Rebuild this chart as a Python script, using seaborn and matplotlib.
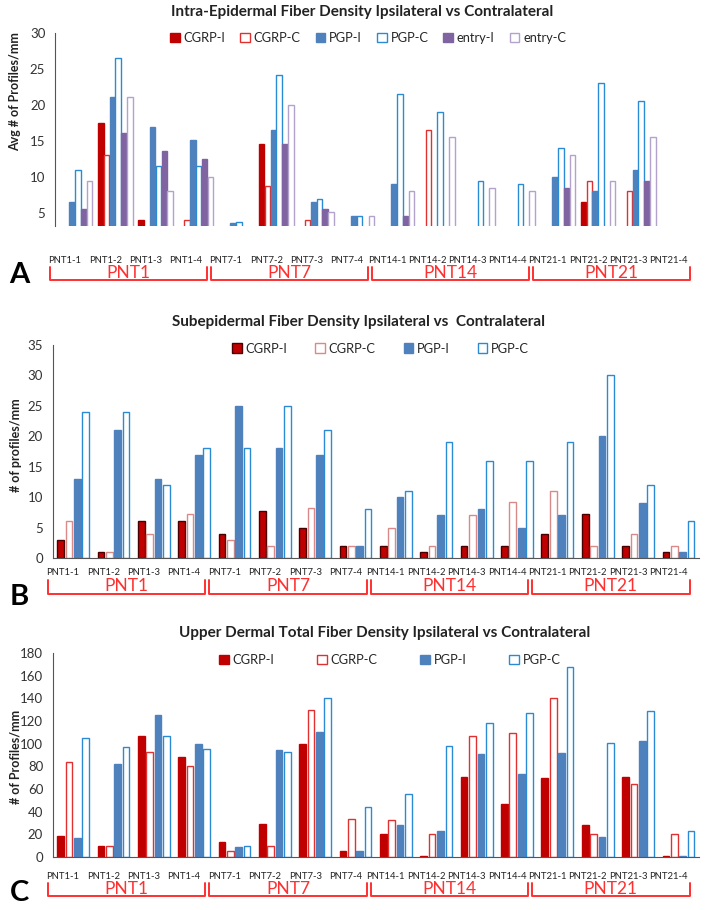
import numpy as np
import pandas as pd
import matplotlib
matplotlib.use("Agg")
import matplotlib.pyplot as plt
import matplotlib.transforms as mtransforms
from matplotlib.patches import Patch
import seaborn as sns

# ---------------------------------------------------------------------------
# Data
# ---------------------------------------------------------------------------
categories = ["PNT1-1", "PNT1-2", "PNT1-3", "PNT1-4",
              "PNT7-1", "PNT7-2", "PNT7-3", "PNT7-4",
              "PNT14-1", "PNT14-2", "PNT14-3", "PNT14-4",
              "PNT21-1", "PNT21-2", "PNT21-3", "PNT21-4"]
groups = ["PNT1", "PNT7", "PNT14", "PNT21"]

# Panel A: intra-epidermal
series_a = ["CGRP-I", "CGRP-C", "PGP-I", "PGP-C", "entry-I", "entry-C"]
cgrp_i_a = [0, 17.5, 4.0, 0, 0, 14.6, 0, 0, 0, 0, 0, 0, 0, 6.5, 0, 0]
cgrp_c_a = [0, 13.1, 0, 4.0, 0, 8.7, 4.0, 0, 0, 16.6, 0, 0, 0, 9.5, 8.0, 0]
pgp_i_a = [6.5, 21.1, 17.0, 15.1, 3.6, 16.6, 6.5, 4.6, 9.1, 0, 0, 0, 10.0, 8.0, 11.0, 0]
pgp_c_a = [11.0, 26.6, 11.5, 11.5, 3.7, 24.2, 7.0, 4.6, 21.5, 19.1, 9.5, 9.1, 14.0, 23.1, 20.6, 0]
entry_i_a = [5.5, 16.1, 13.6, 12.5, 0, 14.6, 5.5, 0, 4.6, 0, 0, 0, 8.5, 0, 9.5, 0]
entry_c_a = [9.5, 21.1, 8.0, 10.0, 0, 20.0, 5.1, 4.6, 8.0, 15.5, 8.5, 8.0, 13.1, 9.5, 15.5, 0]

# Panel B: subepidermal
series_b = ["CGRP-I", "CGRP-C", "PGP-I", "PGP-C"]
cgrp_i_b = [3, 1, 6, 6, 4, 7.7, 5, 2, 2, 1, 2, 2, 4, 7.2, 2, 1]
cgrp_c_b = [6, 1, 4, 7.2, 3, 2, 8.2, 2, 5, 2, 7, 9.2, 11, 2, 4, 2]
pgp_i_b = [13, 21, 13, 17, 25, 18, 17, 2, 10, 7, 8, 5, 7, 20, 9, 1]
pgp_c_b = [24, 24, 12, 18, 18, 25, 21, 8, 11, 19, 16, 16, 19, 30, 12, 6]

# Panel C: upper dermal total
series_c = ["CGRP-I", "CGRP-C", "PGP-I", "PGP-C"]
cgrp_i_c = [19, 10, 107, 88, 13, 29, 100, 5, 20, 1, 71, 47, 70, 28, 71, 1]
cgrp_c_c = [84, 10, 93, 80, 5, 10, 130, 34, 33, 20, 107, 109, 140, 20, 64, 20]
pgp_i_c = [17, 82, 125, 100, 9, 94, 110, 5, 28, 23, 91, 73, 92, 18, 102, 1]
pgp_c_c = [105, 97, 107, 95, 10, 93, 140, 44, 56, 98, 118, 127, 168, 101, 129, 23]

# ---------------------------------------------------------------------------
# Styles
# ---------------------------------------------------------------------------
DARK_RED = "#C00000"
RED_EDGE = "#E03030"
BLUE = "#4F81BD"
BLUE_EDGE = "#2A8BD4"
PURPLE = "#8064A2"
PURPLE_EDGE = "#B3A2CC"
BRACKET_RED = "#FF3030"

styles_a = [(DARK_RED, DARK_RED), ("white", RED_EDGE), (BLUE, BLUE),
            ("white", BLUE_EDGE), (PURPLE, PURPLE), ("white", PURPLE_EDGE)]
styles_b = [(DARK_RED, "#4A0000"), ("white", "#D98A88"), (BLUE, BLUE),
            ("white", BLUE_EDGE)]
styles_c = [(DARK_RED, DARK_RED), ("white", RED_EDGE), (BLUE, BLUE),
            ("white", BLUE_EDGE)]

sns.set_style("white")
plt.rcParams["font.family"] = ["Lato", "DejaVu Sans"]

fig = plt.figure(figsize=(7.05, 9.10), dpi=100)


def draw_panel(ax, series, values, styles, width, gap):
    df = pd.DataFrame({
        "sample": np.tile(categories, len(series)),
        "series": np.repeat(series, len(categories)),
        "value": np.concatenate([np.asarray(v, dtype=float) for v in values]),
    })
    sns.barplot(data=df, x="sample", y="value", hue="series",
                order=categories, hue_order=series,
                palette=[s[0] if s[0] != "white" else s[1] for s in styles],
                saturation=1, width=width, gap=gap, errorbar=None,
                legend=False, ax=ax)
    for cont, (face, edge) in zip(ax.containers, styles):
        for bar in cont:
            bar.set_facecolor(face)
            bar.set_edgecolor(edge)
            bar.set_linewidth(1.0)
    ax.set_xlim(-0.5, len(categories) - 0.5)
    ax.set_xlabel("")
    ax.set_ylabel("")
    ax.set_xticks([])
    ax.tick_params(axis="y", length=0, pad=7, labelsize=9.5, labelcolor="#333333")
    sns.despine(ax=ax)
    ax.spines["left"].set_color("#555555")
    ax.spines["bottom"].set_color("#555555")


def add_axis_labels(ax, tick_y, bracket_top, bracket_bot, group_y):
    trans = mtransforms.blended_transform_factory(ax.transData, ax.transAxes)
    for i, cat in enumerate(categories):
        ax.text(i - 0.25, tick_y, cat, transform=trans, ha="center", va="center",
                fontsize=6.8, color="#222222")
    for g, name in enumerate(groups):
        x0 = 4 * g - 0.63
        x1 = 4 * g + 3.28
        ax.plot([x0, x0, x1, x1], [bracket_top, bracket_bot, bracket_bot, bracket_top],
                transform=trans, color=BRACKET_RED, lw=1.4, clip_on=False)
        ax.text((x0 + x1) / 2, group_y, name, transform=trans, ha="center",
                va="center", fontsize=12.5, color=BRACKET_RED)


def add_legend(ax, series, styles, x, y, colspace):
    handles = [Patch(facecolor=f, edgecolor=e, linewidth=1.0, label=s)
               for s, (f, e) in zip(series, styles)]
    ax.legend(handles=handles, ncol=len(series), loc="center",
              bbox_to_anchor=(x, y), bbox_transform=fig.transFigure,
              frameon=False, fontsize=9.3, handlelength=0.75, handleheight=0.75,
              handletextpad=0.3, columnspacing=colspace)


# Panel A
ax_a = fig.add_axes([0.078, 0.7516, 0.913, 0.2121])
draw_panel(ax_a, series_a,
           [cgrp_i_a, cgrp_c_a, pgp_i_a, pgp_c_a, entry_i_a, entry_c_a],
           styles_a, width=0.87, gap=0.05)
ax_a.set_ylim(3.2, 30)
ax_a.set_yticks([5, 10, 15, 20, 25, 30])
ax_a.spines["bottom"].set_visible(False)
add_axis_labels(ax_a, -0.181, -0.212, -0.28, -0.244)
add_legend(ax_a, series_a, styles_a, 0.522, 0.958, 1.15)

# Panel B
ax_b = fig.add_axes([0.075, 0.3868, 0.916, 0.2341])
draw_panel(ax_b, series_b, [cgrp_i_b, cgrp_c_b, pgp_i_b, pgp_c_b],
           styles_b, width=0.83, gap=0.2)
ax_b.set_ylim(0, 35)
ax_b.set_yticks(range(0, 36, 5))
add_axis_labels(ax_b, -0.070, -0.103, -0.169, -0.131)
add_legend(ax_b, series_b, styles_b, 0.54, 0.617, 2.15)

# Panel C
ax_c = fig.add_axes([0.075, 0.0582, 0.916, 0.2242])
draw_panel(ax_c, series_c, [cgrp_i_c, cgrp_c_c, pgp_i_c, pgp_c_c],
           styles_c, width=0.83, gap=0.2)
ax_c.set_ylim(0, 180)
ax_c.set_yticks(range(0, 181, 20))
add_axis_labels(ax_c, -0.093, -0.127, -0.191, -0.157)
add_legend(ax_c, series_c, styles_c, 0.553, 0.275, 3.3)

# Titles, axis titles and panel letters
fig.text(0.514, 0.987, "Intra-Epidermal Fiber Density Ipsilateral vs Contralateral",
         ha="center", va="center", fontsize=11, fontweight="bold", color="#222222")
fig.text(0.509, 0.646, "Subepidermal Fiber Density Ipsilateral vs  Contralateral",
         ha="center", va="center", fontsize=11, fontweight="bold", color="#222222")
fig.text(0.546, 0.3044, "Upper Dermal Total Fiber Density Ipsilateral vs Contralateral",
         ha="center", va="center", fontsize=11, fontweight="bold", color="#222222")

fig.text(0.022, 0.899, "Avg # of Profiles/mm", rotation=90, ha="center", va="center",
         fontsize=9, fontweight="bold", color="#222222")
fig.text(0.022, 0.511, "# of profiles/mm", rotation=90, ha="center", va="center",
         fontsize=9, fontweight="bold", color="#222222")
fig.text(0.022, 0.168, "# of Profiles/mm", rotation=90, ha="center", va="center",
         fontsize=9, fontweight="bold", color="#222222")

for letter, y in [("A", 0.698), ("B", 0.344), ("C", 0.019)]:
    fig.text(0.028, y, letter, ha="center", va="center", fontsize=21,
             fontweight="bold", color="black")

fig.savefig("out.png", dpi=100)
